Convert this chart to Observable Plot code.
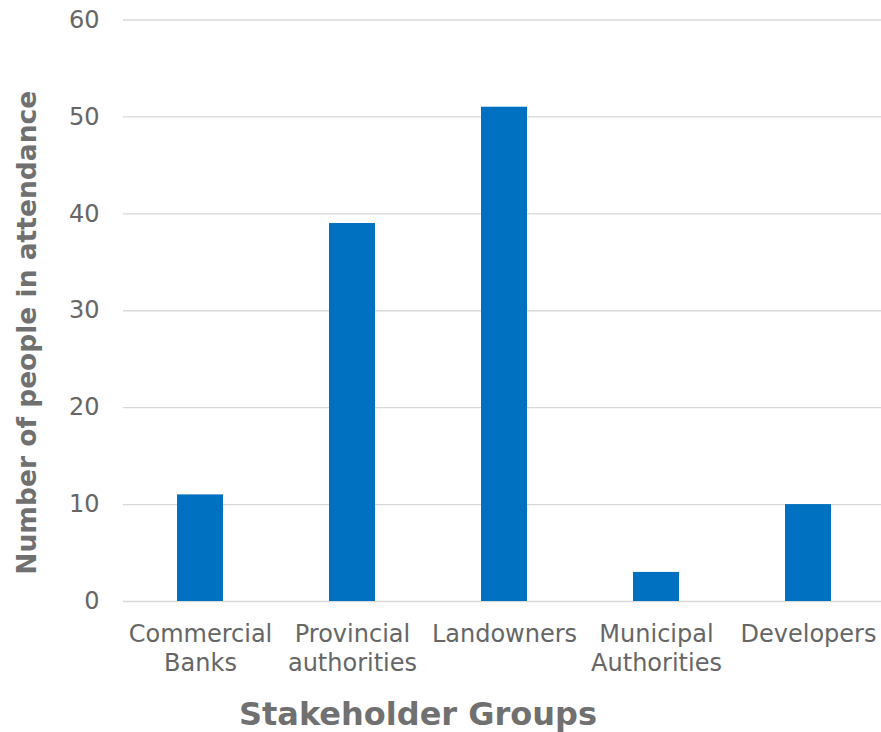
<!DOCTYPE html>
<html>
<head>
<meta charset="utf-8">
<script src="https://cdn.jsdelivr.net/npm/d3@7"></script>
<script src="https://cdn.jsdelivr.net/npm/@observablehq/plot@0.6"></script>
<style>
  html, body { margin: 0; padding: 0; background: #fff; }
  #chart { width: 881px; height: 732px; }
</style>
</head>
<body>
<div id="chart"></div>
<script>
const categories = ["Commercial Banks", "Provincial authorities", "Landowners", "Municipal Authorities", "Developers"];
const tickLabels = ["Commercial\nBanks", "Provincial\nauthorities", "Landowners", "Municipal\nAuthorities", "Developers"];
const attendance = [11, 39, 51, 3, 10];
const yTicks = [0, 10, 20, 30, 40, 50, 60];
const xTitle = "Stakeholder Groups";
const yTitle = "Number of people in attendance";

const data = categories.map((c, i) => ({category: c, value: attendance[i]}));
const labelOf = new Map(categories.map((c, i) => [c, tickLabels[i]]));

const font = "DejaVu Sans, Verdana, sans-serif";

const chart = Plot.plot({
  width: 881,
  height: 732,
  marginLeft: 123,
  marginRight: 0,
  marginTop: 19.5,
  marginBottom: 131,
  style: {fontFamily: font, background: "#fff"},
  x: {domain: categories, range: [123, 884.5], paddingInner: 0.7, paddingOuter: 0.35},
  y: {domain: [0, 60]},
  marks: [
    Plot.gridY(yTicks, {stroke: "#d9d9d9", strokeOpacity: 1, strokeWidth: 1.4}),
    Plot.barY(data, {x: "category", y: "value", fill: "#0070c0"}),
    Plot.axisY(yTicks, {tickSize: 0, tickPadding: 24, fontSize: 24, fill: "#666666", label: null}),
    Plot.axisX({tickSize: 0, tickPadding: 20, fontSize: 24, fill: "#666666", lineHeight: 1.2,
                tickFormat: d => labelOf.get(d), label: null}),
    Plot.text([xTitle], {frameAnchor: "bottom", text: d => d, dx: -84.5, dy: 113,
                lineAnchor: "middle", fontSize: 32, fontWeight: "bold", fill: "#707070"}),
    Plot.text([yTitle], {frameAnchor: "left", text: d => d, dx: -96, dy: 22, rotate: -90,
                textAnchor: "middle", fontSize: 26.5, fontWeight: "bold", fill: "#707070"})
  ]
});
document.getElementById("chart").appendChild(chart);
</script>
</body>
</html>
